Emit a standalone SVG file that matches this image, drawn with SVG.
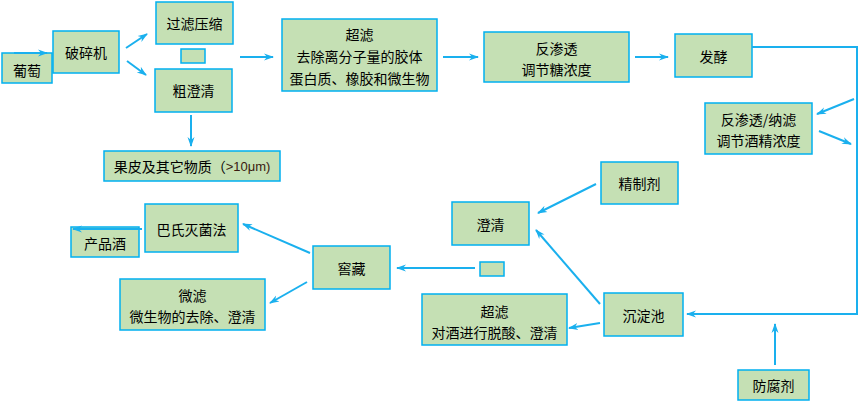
<svg xmlns="http://www.w3.org/2000/svg" width="858" height="401" viewBox="0 0 858 401">
<defs>
<style>
.b{fill:#C5E0B4;stroke:#00B0F0;stroke-width:1.5}
.t{font-family:"Noto Sans CJK SC","Noto Sans",sans-serif;font-size:14px;fill:#000;text-anchor:middle;dominant-baseline:central}
.c{stroke:#1AB0EE;stroke-width:2;fill:none}
</style>
<marker id="h" viewBox="0 0 10 10" refX="9" refY="5" markerWidth="10" markerHeight="10" orient="auto" markerUnits="userSpaceOnUse">
<path d="M0,1.5 L10,5 L0,8.5 L3,5 Z" fill="#1AB0EE"/>
</marker>
</defs>
<rect width="858" height="401" fill="#fff"/>
<g id="n-putao"><rect class="b" x="2" y="53" width="50" height="30"/><text class="t" x="27" y="70">葡萄</text></g>
<g id="n-posuiji"><rect class="b" x="53" y="31" width="66" height="42"/><text class="t" x="86" y="52">破碎机</text></g>
<g id="n-guolv"><rect class="b" x="156" y="2" width="77" height="42"/><text class="t" x="194.5" y="23">过滤压缩</text></g>
<g id="n-small1"><rect class="b" x="181" y="49" width="24" height="14"/></g>
<g id="n-cucheng"><rect class="b" x="155" y="69" width="77" height="43"/><text class="t" x="193.5" y="90">粗澄清</text></g>
<g id="n-guopi"><rect class="b" x="104" y="151" width="176" height="30"/><text class="t" x="192" y="166">果皮及其它物质（<tspan font-family="Liberation Sans, Arial, sans-serif" font-size="13" fill="#3a1a10">&gt;10μm)</tspan></text></g>
<g id="n-chaolv1"><rect class="b" x="282" y="19" width="155" height="72"/><text class="t" x="359.5" y="34">超滤</text><text class="t" x="359.5" y="56">去除离分子量的胶体</text><text class="t" x="359.5" y="78">蛋白质、橡胶和微生物</text></g>
<g id="n-fanshentou"><rect class="b" x="484" y="32" width="145" height="50"/><text class="t" x="556.5" y="48">反渗透</text><text class="t" x="556.5" y="69">调节糖浓度</text></g>
<g id="n-fajiao"><rect class="b" x="675" y="34" width="77" height="43"/><text class="t" x="713.5" y="55.5">发酵</text></g>
<g id="n-nalv"><rect class="b" x="705" y="103" width="107" height="51"/><text class="t" x="758.5" y="119">反渗透/纳滤</text><text class="t" x="758.5" y="139.5">调节酒精浓度</text></g>
<g id="n-jingzhiji"><rect class="b" x="601" y="162" width="77" height="42"/><text class="t" x="639.5" y="183">精制剂</text></g>
<g id="n-chengqing"><rect class="b" x="452" y="202" width="77" height="43"/><text class="t" x="490.5" y="223.5">澄清</text></g>
<g id="n-small2"><rect class="b" x="480" y="262" width="24" height="14"/></g>
<g id="n-jiaocang"><rect class="b" x="313" y="246" width="77" height="43"/><text class="t" x="351.5" y="267.5">窖藏</text></g>
<g id="n-chaolv2"><rect class="b" x="422" y="294" width="145" height="51"/><text class="t" x="494.5" y="311">超滤</text><text class="t" x="494.5" y="332">对酒进行脱酸、澄清</text></g>
<g id="n-chendianchi"><rect class="b" x="604" y="293" width="79" height="43"/><text class="t" x="643.5" y="314.5">沉淀池</text></g>
<g id="n-fangfuji"><rect class="b" x="738" y="370" width="71" height="30"/><text class="t" x="773.5" y="385">防腐剂</text></g>
<g id="n-bashi"><rect class="b" x="145" y="204" width="93" height="48"/><text class="t" x="191.5" y="228.5">巴氏灭菌法</text></g>
<g id="n-chanpin"><rect class="b" x="71" y="227" width="68" height="30"/><text class="t" x="105" y="243">产品酒</text></g>
<g id="n-weilv"><rect class="b" x="120" y="279" width="145" height="51"/><text class="t" x="192.5" y="295">微滤</text><text class="t" x="192.5" y="316">微生物的去除、澄清</text></g>
<g id="connectors">
<line class="c" x1="14" y1="53" x2="47" y2="53" marker-end="url(#h)"/>
<line class="c" x1="126" y1="48" x2="147" y2="34" marker-end="url(#h)"/>
<line class="c" x1="127" y1="61" x2="146" y2="75" marker-end="url(#h)"/>
<line class="c" x1="191" y1="115" x2="191" y2="146" marker-end="url(#h)"/>
<line class="c" x1="240" y1="57" x2="273" y2="57" marker-end="url(#h)"/>
<line class="c" x1="443" y1="57" x2="478" y2="57" marker-end="url(#h)"/>
<line class="c" x1="635" y1="57" x2="668" y2="57" marker-end="url(#h)"/>
<polyline class="c" points="752,47 857,47 857,314 687,314" marker-end="url(#h)"/>
<line class="c" x1="854" y1="99" x2="817" y2="114" marker-end="url(#h)"/>
<line class="c" x1="819" y1="131" x2="851" y2="144" marker-end="url(#h)"/>
<line class="c" x1="596" y1="184" x2="538" y2="213" marker-end="url(#h)"/>
<line class="c" x1="600" y1="304" x2="536" y2="230" marker-end="url(#h)"/>
<line class="c" x1="600" y1="323" x2="569" y2="328" marker-end="url(#h)"/>
<line class="c" x1="775" y1="365" x2="775" y2="324" marker-end="url(#h)"/>
<line class="c" x1="475" y1="268" x2="397" y2="268" marker-end="url(#h)"/>
<line class="c" x1="310" y1="253" x2="243" y2="224" marker-end="url(#h)"/>
<line class="c" x1="307" y1="282" x2="270" y2="303" marker-end="url(#h)"/>
<line class="c" x1="142" y1="229" x2="73" y2="229" marker-end="url(#h)"/>
</g>
</svg>
